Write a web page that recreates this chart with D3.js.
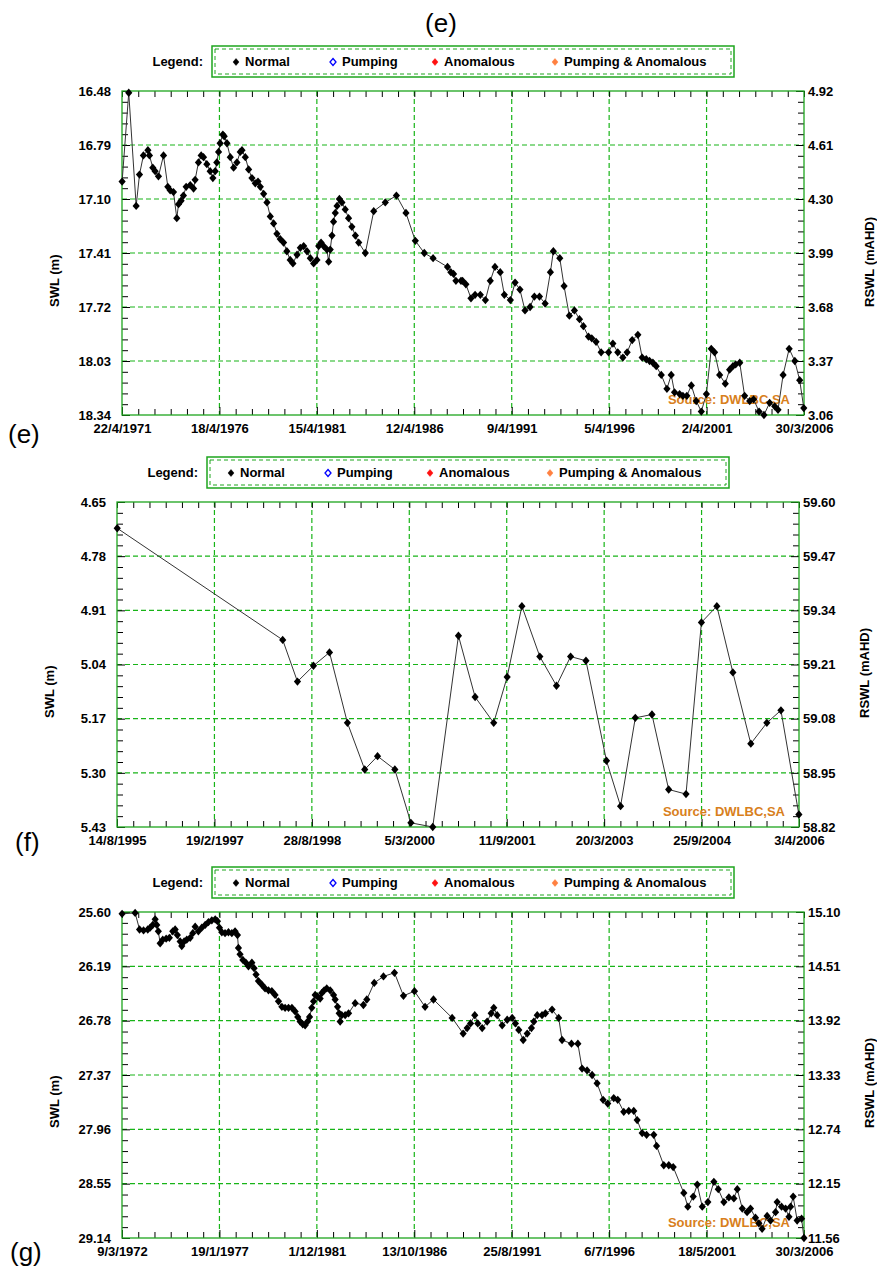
<!DOCTYPE html>
<html>
<head>
<meta charset="utf-8">
<script src="https://cdn.jsdelivr.net/npm/d3@7"></script>
<style>
  body { margin: 0; background: #fff; }
  svg { display: block; }
</style>
</head>
<body>
<svg id="chart"></svg>
<script>
// ---------- data ----------
const legendLabels = ["Normal", "Pumping", "Anomalous", "Pumping & Anomalous"];
const sourceText = "Source: DWLBC,SA";

// well (e)
const tickDatesE = ["1971-04-22", "1976-04-18", "1981-04-15", "1986-04-12", "1991-04-09", "1996-04-05", "2001-04-02", "2006-03-30"];
const swlTicksE = [16.48, 16.79, 17.10, 17.41, 17.72, 18.03, 18.34];
const rswlTicksE = [4.92, 4.61, 4.30, 3.99, 3.68, 3.37, 3.06];
const yearsE = [1971.31, 1971.65, 1972.03, 1972.20, 1972.40, 1972.63, 1972.71, 1972.88, 1973.00, 1973.17,
  1973.43, 1973.65, 1973.77, 1973.94, 1974.11, 1974.20, 1974.33, 1974.45, 1974.59, 1974.80,
  1974.97, 1975.05, 1975.22, 1975.36, 1975.48, 1975.65, 1975.82, 1975.96, 1976.08, 1976.16,
  1976.25, 1976.33, 1976.47, 1976.54, 1976.68, 1976.85, 1977.02, 1977.19, 1977.36, 1977.45,
  1977.62, 1977.79, 1977.96, 1978.13, 1978.27, 1978.39, 1978.56, 1978.73, 1978.90, 1979.07,
  1979.24, 1979.41, 1979.58, 1979.75, 1979.92, 1980.06, 1980.27, 1980.44, 1980.61, 1980.78,
  1980.95, 1981.12, 1981.29, 1981.38, 1981.50, 1981.63, 1981.80, 1981.89, 1981.97, 1982.06,
  1982.14, 1982.23, 1982.32, 1982.44, 1982.57, 1982.74, 1982.91, 1983.08, 1983.26, 1983.43,
  1983.77, 1984.20, 1984.79, 1985.36, 1985.85, 1986.33, 1986.79, 1987.24, 1987.98, 1988.15,
  1988.29, 1988.41, 1988.67, 1988.75, 1988.92, 1989.18, 1989.39, 1989.66, 1989.92, 1990.17,
  1990.41, 1990.68, 1990.89, 1991.20, 1991.44, 1991.69, 1991.95, 1992.21, 1992.43, 1992.69,
  1992.98, 1993.25, 1993.40, 1993.73, 1993.95, 1994.22, 1994.48, 1994.74, 1994.94, 1995.20,
  1995.37, 1995.59, 1995.85, 1996.23, 1996.45, 1996.70, 1996.96, 1997.18, 1997.44, 1997.73,
  1997.95, 1998.16, 1998.33, 1998.50, 1998.67, 1998.93, 1999.22, 1999.44, 1999.61, 1999.87,
  2000.04, 2000.24, 2000.47, 2000.72, 2000.98, 2001.24, 2001.49, 2001.66, 2001.92, 2002.21,
  2002.43, 2002.60, 2002.74, 2002.95, 2003.20, 2003.46, 2003.66, 2003.94, 2004.19, 2004.48,
  2004.74, 2004.91, 2005.17, 2005.48, 2005.77, 2006.02, 2006.23];
const swlE = [17.00, 16.49, 17.14, 16.96, 16.85, 16.82, 16.85, 16.92, 16.94, 16.97,
  16.85, 17.03, 17.05, 17.06, 17.21, 17.13, 17.11, 17.08, 17.03, 17.02,
  17.04, 16.99, 16.89, 16.85, 16.86, 16.90, 16.94, 16.98, 16.94, 16.89,
  16.83, 16.78, 16.73, 16.74, 16.78, 16.86, 16.92, 16.89, 16.83, 16.82,
  16.86, 16.93, 16.98, 17.01, 17.00, 17.03, 17.07, 17.12, 17.20, 17.24,
  17.30, 17.33, 17.35, 17.40, 17.45, 17.47, 17.42, 17.38, 17.37, 17.40,
  17.44, 17.47, 17.45, 17.37, 17.35, 17.37, 17.39, 17.46, 17.39, 17.31,
  17.23, 17.18, 17.14, 17.10, 17.12, 17.16, 17.21, 17.26, 17.31, 17.35,
  17.41, 17.17, 17.12, 17.08, 17.18, 17.34, 17.41, 17.44, 17.49, 17.52,
  17.53, 17.57, 17.57, 17.57, 17.59, 17.67, 17.65, 17.65, 17.68, 17.57,
  17.49, 17.52, 17.65, 17.68, 17.58, 17.62, 17.74, 17.72, 17.66, 17.66,
  17.70, 17.52, 17.40, 17.44, 17.60, 17.77, 17.74, 17.79, 17.83, 17.89,
  17.90, 17.92, 17.98, 17.98, 17.93, 17.98, 18.01, 17.98, 17.91, 17.88,
  18.01, 18.02, 18.03, 18.04, 18.06, 18.11, 18.19, 18.11, 18.21, 18.22,
  18.23, 18.23, 18.17, 18.26, 18.32, 18.22, 17.96, 17.98, 18.11, 18.16,
  18.08, 18.06, 18.05, 18.04, 18.23, 18.26, 18.25, 18.32, 18.34, 18.27,
  18.29, 18.31, 18.11, 17.96, 18.03, 18.14, 18.30];

// well (f)
const tickDatesF = ["1995-08-14", "1997-02-19", "1998-08-28", "2000-03-05", "2001-09-11", "2003-03-20", "2004-09-25", "2006-04-03"];
const swlTicksF = [4.65, 4.78, 4.91, 5.04, 5.17, 5.30, 5.43];
const rswlTicksF = [59.60, 59.47, 59.34, 59.21, 59.08, 58.95, 58.82];
const yearsF = [1995.62, 1998.20, 1998.43, 1998.68, 1998.93, 1999.21, 1999.48, 1999.68, 1999.95, 2000.20,
  2000.54, 2000.94, 2001.20, 2001.49, 2001.70, 2001.93, 2002.21, 2002.47, 2002.69, 2002.93,
  2003.25, 2003.47, 2003.70, 2003.96, 2004.22, 2004.49, 2004.73, 2004.97, 2005.22, 2005.50,
  2005.75, 2005.97, 2006.25];
const swlF = [4.713, 4.981, 5.081, 5.043, 5.011, 5.180, 5.292, 5.260, 5.292, 5.420,
  5.430, 4.971, 5.118, 5.180, 5.070, 4.900, 5.021, 5.091, 5.021, 5.031,
  5.271, 5.380, 5.168, 5.160, 5.340, 5.351, 4.939, 4.900, 5.059, 5.230,
  5.180, 5.150, 5.400];

// well (g)
const tickDatesG = ["1972-03-09", "1977-01-19", "1981-12-01", "1986-10-13", "1991-08-25", "1996-07-06", "2001-05-18", "2006-03-30"];
const swlTicksG = [25.60, 26.19, 26.78, 27.37, 27.96, 28.55, 29.14];
const rswlTicksG = [15.10, 14.51, 13.92, 13.33, 12.74, 12.15, 11.56];
const yearsG = [1972.19, 1972.84, 1973.06, 1973.26, 1973.47, 1973.59, 1973.72, 1973.84, 1973.92, 1974.00,
  1974.09, 1974.22, 1974.39, 1974.55, 1974.72, 1974.84, 1974.95, 1975.09, 1975.17, 1975.29,
  1975.42, 1975.59, 1975.72, 1975.84, 1976.00, 1976.17, 1976.34, 1976.50, 1976.67, 1976.84,
  1976.95, 1977.05, 1977.17, 1977.33, 1977.50, 1977.67, 1977.83, 1977.95, 1978.00, 1978.08,
  1978.22, 1978.37, 1978.50, 1978.67, 1978.78, 1978.88, 1979.00, 1979.17, 1979.33, 1979.50,
  1979.67, 1979.83, 1980.00, 1980.17, 1980.33, 1980.50, 1980.67, 1980.83, 1980.96, 1981.08,
  1981.21, 1981.33, 1981.45, 1981.55, 1981.66, 1981.75, 1981.83, 1981.95, 1982.08, 1982.16,
  1982.28, 1982.41, 1982.58, 1982.75, 1982.83, 1982.95, 1983.03, 1983.08, 1983.16, 1983.33,
  1983.50, 1983.83, 1984.24, 1984.41, 1984.78, 1985.24, 1985.79, 1986.24, 1986.79, 1987.32,
  1987.74, 1988.67, 1989.22, 1989.42, 1989.59, 1989.80, 1989.95, 1990.17, 1990.42, 1990.62,
  1990.75, 1990.92, 1991.17, 1991.42, 1991.67, 1991.83, 1992.00, 1992.22, 1992.42, 1992.63,
  1992.75, 1992.92, 1993.16, 1993.33, 1993.66, 1993.99, 1994.16, 1994.63, 1994.95, 1995.16,
  1995.41, 1995.66, 1995.91, 1996.21, 1996.44, 1996.74, 1996.94, 1997.24, 1997.49, 1997.74,
  1997.91, 1998.16, 1998.38, 1998.74, 1998.88, 1999.24, 1999.49, 1999.71, 2000.24, 2000.44,
  2000.71, 2000.91, 2001.16, 2001.44, 2001.74, 2001.96, 2002.24, 2002.49, 2002.74, 2002.91,
  2003.16, 2003.40, 2003.57, 2003.82, 2003.99, 2004.15, 2004.40, 2004.57, 2004.82, 2004.90,
  2005.12, 2005.32, 2005.49, 2005.57, 2005.70, 2005.90, 2006.12, 2006.24];
const swlG = [25.62, 25.61, 25.79, 25.80, 25.79, 25.77, 25.74, 25.68, 25.74, 25.81,
  25.94, 25.90, 25.89, 25.88, 25.81, 25.79, 25.85, 25.92, 25.97, 25.92,
  25.90, 25.88, 25.83, 25.76, 25.81, 25.77, 25.74, 25.71, 25.69, 25.68,
  25.70, 25.77, 25.82, 25.83, 25.82, 25.83, 25.81, 25.85, 25.99, 26.06,
  26.12, 26.15, 26.19, 26.15, 26.21, 26.28, 26.35, 26.39, 26.43, 26.45,
  26.46, 26.50, 26.57, 26.63, 26.64, 26.64, 26.64, 26.68, 26.74, 26.79,
  26.82, 26.83, 26.79, 26.74, 26.64, 26.57, 26.50, 26.52, 26.54, 26.48,
  26.45, 26.43, 26.45, 26.50, 26.55, 26.63, 26.70, 26.79, 26.72, 26.72,
  26.70, 26.59, 26.61, 26.55, 26.37, 26.30, 26.26, 26.51, 26.46, 26.63,
  26.55, 26.75, 26.92, 26.86, 26.81, 26.72, 26.81, 26.86, 26.79, 26.70,
  26.64, 26.72, 26.83, 26.77, 26.75, 26.81, 26.88, 26.99, 26.92, 26.86,
  26.79, 26.72, 26.72, 26.70, 26.66, 26.75, 26.99, 27.03, 27.03, 27.30,
  27.32, 27.37, 27.46, 27.64, 27.68, 27.62, 27.64, 27.77, 27.76, 27.76,
  27.86, 28.00, 28.02, 28.02, 28.14, 28.35, 28.35, 28.37, 28.65, 28.80,
  28.69, 28.56, 28.80, 28.75, 28.53, 28.61, 28.75, 28.70, 28.71, 28.61,
  28.82, 28.86, 28.82, 28.92, 28.98, 29.04, 28.90, 28.95, 28.86, 28.75,
  28.80, 28.82, 28.91, 28.80, 28.69, 28.95, 28.93, 29.14];

// ---------- setup ----------
const width = 877, height = 1270;
const FONT = "Arial, 'Liberation Sans', Helvetica, sans-serif";
const GREEN = "#1ea51e", GRID = "#18b418", SOURCE = "#d8801c";

const svg = d3.select("#chart")
    .attr("width", width)
    .attr("height", height)
    .style("font-family", FONT);

const parseDay = d3.timeParse("%Y-%m-%d");
const fmtDay = d3.timeFormat("%-d/%-m/%Y");
const fmt2 = d3.format(".2f");

// decimal year -> Date
function yearToDate(y) {
    let yr = Math.floor(y);
    let start = new Date(yr, 0, 1), end = new Date(yr + 1, 0, 1);
    return new Date(+start + (y - yr) * (end - start));
}

// diamond marker
const diamond = {
    draw: function(ctx, size) {
        let w = size, h = size * 1.15;
        ctx.moveTo(0, -h);
        ctx.lineTo(w, 0);
        ctx.lineTo(0, h);
        ctx.lineTo(-w, 0);
        ctx.closePath();
    }
};

function styleAxis(sel) {
    sel.select(".domain").remove();
    sel.selectAll("line").attr("stroke", "#000").attr("stroke-width", 1);
    sel.selectAll("text")
        .attr("font-family", FONT)
        .attr("font-size", 13)
        .attr("font-weight", "bold")
        .attr("fill", "#000");
}

function drawLegend(left, top) {
    let g = svg.append("g");
    let w = 522, h = 31;
    g.append("rect")
        .attr("x", left).attr("y", top).attr("width", w).attr("height", h)
        .attr("fill", "none").attr("stroke", GREEN).attr("stroke-width", 1.5);
    g.append("rect")
        .attr("x", left + 3).attr("y", top + 3).attr("width", w - 6).attr("height", h - 6)
        .attr("fill", "none").attr("stroke", GREEN).attr("stroke-dasharray", "4,3");

    g.append("text")
        .attr("x", left - 9).attr("y", top + 20)
        .attr("text-anchor", "end")
        .attr("font-size", 13).attr("font-weight", "bold")
        .text("Legend:");

    let offsets = [24, 121, 223, 343];
    let fills = ["#000", "#fff", "#ff1010", "#ff8040"];
    let strokes = ["#000", "#0000ff", "#ff1010", "#ff8040"];
    legendLabels.forEach(function(lab, i) {
        g.append("path")
            .attr("d", d3.symbol().type(diamond).size(3)())
            .attr("transform", "translate(" + (left + offsets[i]) + "," + (top + 16) + ")")
            .attr("fill", fills[i])
            .attr("stroke", strokes[i])
            .attr("stroke-width", i == 1 ? 1.3 : 0.5);
        g.append("text")
            .attr("x", left + offsets[i] + 9).attr("y", top + 20)
            .attr("font-size", 13).attr("font-weight", "bold")
            .text(lab);
    });
}

function drawPanel(p) {
    let l = p.box[0], r = p.box[1], t = p.box[2], b = p.box[3];
    let dates = p.dates.map(parseDay);

    let x = d3.scaleTime()
        .domain([dates[0], dates[dates.length - 1]])
        .range([l, r]);
    let y = d3.scaleLinear()
        .domain([p.swlTicks[0], p.swlTicks[p.swlTicks.length - 1]])
        .range([t, b]);
    let yR = d3.scaleLinear()
        .domain([p.rswlTicks[0], p.rswlTicks[p.rswlTicks.length - 1]])
        .range([t, b]);

    // minor ticks: 6 per date interval, 5 per level interval
    let xMinor = [];
    for (let i = 0; i < dates.length - 1; i++)
        for (let k = 1; k < 6; k++)
            xMinor.push(new Date(+dates[i] + (dates[i + 1] - dates[i]) * k / 6));
    let yMinor = [];
    for (let i = 0; i < p.swlTicks.length - 1; i++)
        for (let k = 1; k < 5; k++)
            yMinor.push(p.swlTicks[i] + (p.swlTicks[i + 1] - p.swlTicks[i]) * k / 5);

    let g = svg.append("g");

    // grid
    g.selectAll(".vgrid")
        .data(dates.slice(1, -1))
        .enter().append("line")
        .attr("x1", d => x(d)).attr("x2", d => x(d))
        .attr("y1", t).attr("y2", b)
        .attr("stroke", GRID).attr("stroke-width", 1.2).attr("stroke-dasharray", "5,3");
    g.selectAll(".hgrid")
        .data(p.swlTicks.slice(1, -1))
        .enter().append("line")
        .attr("x1", l).attr("x2", r)
        .attr("y1", d => y(d)).attr("y2", d => y(d))
        .attr("stroke", GRID).attr("stroke-width", 1.2).attr("stroke-dasharray", "5,3");

    // axes
    g.append("g").attr("transform", "translate(0," + b + ")")
        .call(d3.axisBottom(x).tickValues(dates).tickFormat(fmtDay).tickSize(-8).tickPadding(9))
        .call(styleAxis);
    g.append("g").attr("transform", "translate(0," + b + ")")
        .call(d3.axisBottom(x).tickValues(xMinor).tickFormat(() => "").tickSize(-6))
        .call(styleAxis);
    g.append("g").attr("transform", "translate(0," + t + ")")
        .call(d3.axisTop(x).tickValues(dates.concat(xMinor)).tickFormat(() => "").tickSize(-6))
        .call(styleAxis);
    g.append("g").attr("transform", "translate(" + l + ",0)")
        .call(d3.axisLeft(y).tickValues(p.swlTicks).tickFormat(fmt2).tickSize(-8).tickPadding(11))
        .call(styleAxis);
    g.append("g").attr("transform", "translate(" + l + ",0)")
        .call(d3.axisLeft(y).tickValues(yMinor).tickFormat(() => "").tickSize(-6))
        .call(styleAxis);
    g.append("g").attr("transform", "translate(" + r + ",0)")
        .call(d3.axisRight(yR).tickValues(p.rswlTicks).tickFormat(fmt2).tickSize(-8).tickPadding(4))
        .call(styleAxis);
    g.append("g").attr("transform", "translate(" + r + ",0)")
        .call(d3.axisRight(y).tickValues(yMinor).tickFormat(() => "").tickSize(-6))
        .call(styleAxis);

    // frame
    g.append("rect")
        .attr("x", l).attr("y", t).attr("width", r - l).attr("height", b - t)
        .attr("fill", "none").attr("stroke", GREEN).attr("stroke-width", 1.3);

    // axis titles
    g.append("text")
        .attr("transform", "translate(" + (l - 63) + "," + (t + 216) + ") rotate(-90)")
        .attr("font-size", 13).attr("font-weight", "bold")
        .text("SWL (m)");
    g.append("text")
        .attr("transform", "translate(" + (r + 70) + "," + (t + 216) + ") rotate(-90)")
        .attr("font-size", 13).attr("font-weight", "bold")
        .text("RSWL (mAHD)");

    // source
    g.append("text")
        .attr("x", r - 14).attr("y", b - 11)
        .attr("text-anchor", "end")
        .attr("font-size", 13).attr("font-weight", "bold")
        .attr("fill", SOURCE)
        .text(sourceText);

    // series
    let pts = p.years.map((yr, i) => ({date: yearToDate(yr), swl: p.swl[i]}));
    let line = d3.line()
        .x(d => x(d.date))
        .y(d => y(d.swl));
    g.append("path")
        .datum(pts)
        .attr("d", line)
        .attr("fill", "none")
        .attr("stroke", "#333")
        .attr("stroke-width", 1);
    g.selectAll(".pt")
        .data(pts)
        .enter().append("path")
        .attr("d", d3.symbol().type(diamond).size(3.6)())
        .attr("transform", d => "translate(" + x(d.date) + "," + y(d.swl) + ")")
        .attr("fill", "#000");

    drawLegend(l + 90, t - 45);
}

// title
svg.append("text")
    .attr("x", 441).attr("y", 32)
    .attr("text-anchor", "middle")
    .attr("font-size", 26)
    .text("(e)");

drawPanel({box: [122, 804, 91, 415], dates: tickDatesE, swlTicks: swlTicksE, rswlTicks: rswlTicksE, years: yearsE, swl: swlE});
drawPanel({box: [117, 799, 502, 827], dates: tickDatesF, swlTicks: swlTicksF, rswlTicks: rswlTicksF, years: yearsF, swl: swlF});
drawPanel({box: [122, 804, 912, 1238], dates: tickDatesG, swlTicks: swlTicksG, rswlTicks: rswlTicksG, years: yearsG, swl: swlG});

// panel letters
let letters = [["(e)", 8, 443], ["(f)", 15, 851], ["(g)", 10, 1261]];
letters.forEach(function(d) {
    svg.append("text")
        .attr("x", d[1]).attr("y", d[2])
        .attr("font-size", 26)
        .text(d[0]);
});
</script>
</body>
</html>
